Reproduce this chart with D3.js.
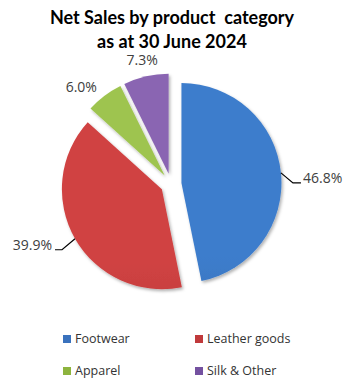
<!DOCTYPE html>
<html>
<head>
<meta charset="utf-8">
<script src="https://cdn.jsdelivr.net/npm/d3@7"></script>
<style>
  html, body { margin: 0; padding: 0; background: #fff; }
  svg { display: block; }
</style>
</head>
<body>
<svg id="chart" width="348" height="381"></svg>
<script>
// ---- data ----
const categories = ["Footwear", "Leather goods", "Apparel", "Silk & Other"];
const values = [46.8, 39.9, 6.0, 7.3];
const labels = ["46.8%", "39.9%", "6.0%", "7.3%"];
const titleLines = ["Net Sales by product  category", "as at 30 June 2024"];
const topColors = ["#3d7dcc", "#d04343", "#9ec44f", "#8a65b2"];
const bottomColors = ["#2c5a95", "#992b2b", "#759439", "#5f4583"];
const legendColors = ["#3a72bd", "#c0393b", "#8db43e", "#7451a0"];

const svg = d3.select("#chart");
const cx = 171, cy = 184, r = 100, explode = 10.5;

const defs = svg.append("defs");
const f = defs.append("filter").attr("id", "sh").attr("x", "-20%").attr("y", "-20%").attr("width", "140%").attr("height", "140%");
f.append("feDropShadow").attr("dx", 1.5).attr("dy", 2).attr("stdDeviation", 1.8)
  .attr("flood-color", "#000").attr("flood-opacity", 0.3);

categories.forEach((c, i) => {
  const g = defs.append("linearGradient").attr("id", "g" + i)
    .attr("gradientUnits", "userSpaceOnUse")
    .attr("x1", 0).attr("y1", cy - r - explode).attr("x2", 0).attr("y2", cy + r + explode);
  g.append("stop").attr("offset", "0%").attr("stop-color", topColors[i]);
  g.append("stop").attr("offset", "100%").attr("stop-color", bottomColors[i]);
});

// title
svg.append("g").selectAll("text").data(titleLines).join("text")
  .attr("x", 172).attr("y", (d, i) => 24 + i * 24)
  .attr("text-anchor", "middle")
  .attr("font-family", "Lato, 'Open Sans', sans-serif")
  .attr("font-weight", "bold").attr("font-size", 18)
  .attr("fill", "#000")
  .attr("xml:space", "preserve")
  .style("white-space", "pre")
  .text(d => d);

const pie = d3.pie().sort(null).value(d => d);
const arcs = pie(values);
const arc = d3.arc().innerRadius(0).outerRadius(r);

const pieG = svg.append("g").attr("transform", `translate(${cx},${cy})`);
const mid = d => (d.startAngle + d.endAngle) / 2;
const off = d => [Math.sin(mid(d)) * explode, -Math.cos(mid(d)) * explode];

pieG.selectAll("path").data(arcs).join("path")
  .attr("transform", d => `translate(${off(d)[0]},${off(d)[1]})`)
  .attr("d", arc)
  .attr("fill", (d, i) => `url(#g${i})`)
  .attr("filter", "url(#sh)");

// labels
const labFont = "'Open Sans', 'DejaVu Sans', sans-serif";
const textColor = "#404040";
const labSize = 14;
const outerLab = [null, null, { dr: 132, da: -0.1 }, { dr: 127, da: 0.0 }];
arcs.forEach((d, i) => {
  const a = mid(d);
  const o = off(d);
  const px = o[0] + Math.sin(a) * r, py = o[1] - Math.cos(a) * r;
  if (i === 0) {
    const ex = px + 12, ey = py + 10;
    pieG.append("path").attr("d", `M${px},${py}L${ex},${ey}L${ex + 8},${ey}`)
      .attr("fill", "none").attr("stroke", "#000").attr("stroke-width", 1.2);
    pieG.append("text").attr("x", ex + 10).attr("y", ey).attr("dy", "0.0em")
      .attr("font-family", labFont).attr("font-size", labSize).attr("fill", textColor)
      .text(labels[i]);
  } else if (i === 1) {
    const ex = px - 13, ey = py + 11;
    pieG.append("path").attr("d", `M${px},${py}L${ex},${ey}L${ex - 7},${ey}`)
      .attr("fill", "none").attr("stroke", "#000").attr("stroke-width", 1.2);
    pieG.append("text").attr("x", ex - 10).attr("y", ey).attr("dy", "0.0em")
      .attr("text-anchor", "end")
      .attr("font-family", labFont).attr("font-size", labSize).attr("fill", textColor)
      .text(labels[i]);
  } else {
    const lr = outerLab[i].dr;
    const la = a + outerLab[i].da;
    pieG.append("text").attr("x", Math.sin(la) * lr).attr("y", -Math.cos(la) * lr).attr("dy", "0.35em")
      .attr("text-anchor", "middle")
      .attr("font-family", labFont).attr("font-size", labSize).attr("fill", textColor)
      .text(labels[i]);
  }
});

// legend
const legX = [63, 195], legY = [339, 371];
const leg = svg.append("g").selectAll("g").data(categories).join("g")
  .attr("transform", (d, i) => `translate(${legX[i % 2]},${legY[Math.floor(i / 2)]})`);
leg.append("rect").attr("x", 0).attr("y", -4).attr("width", 8).attr("height", 8)
  .attr("fill", (d, i) => legendColors[i]);
leg.append("text").attr("x", 12).attr("y", 0).attr("dy", "0.35em")
  .attr("font-family", labFont).attr("font-size", 12.5).attr("fill", "#333")
  .text(d => d);
</script>
</body>
</html>
